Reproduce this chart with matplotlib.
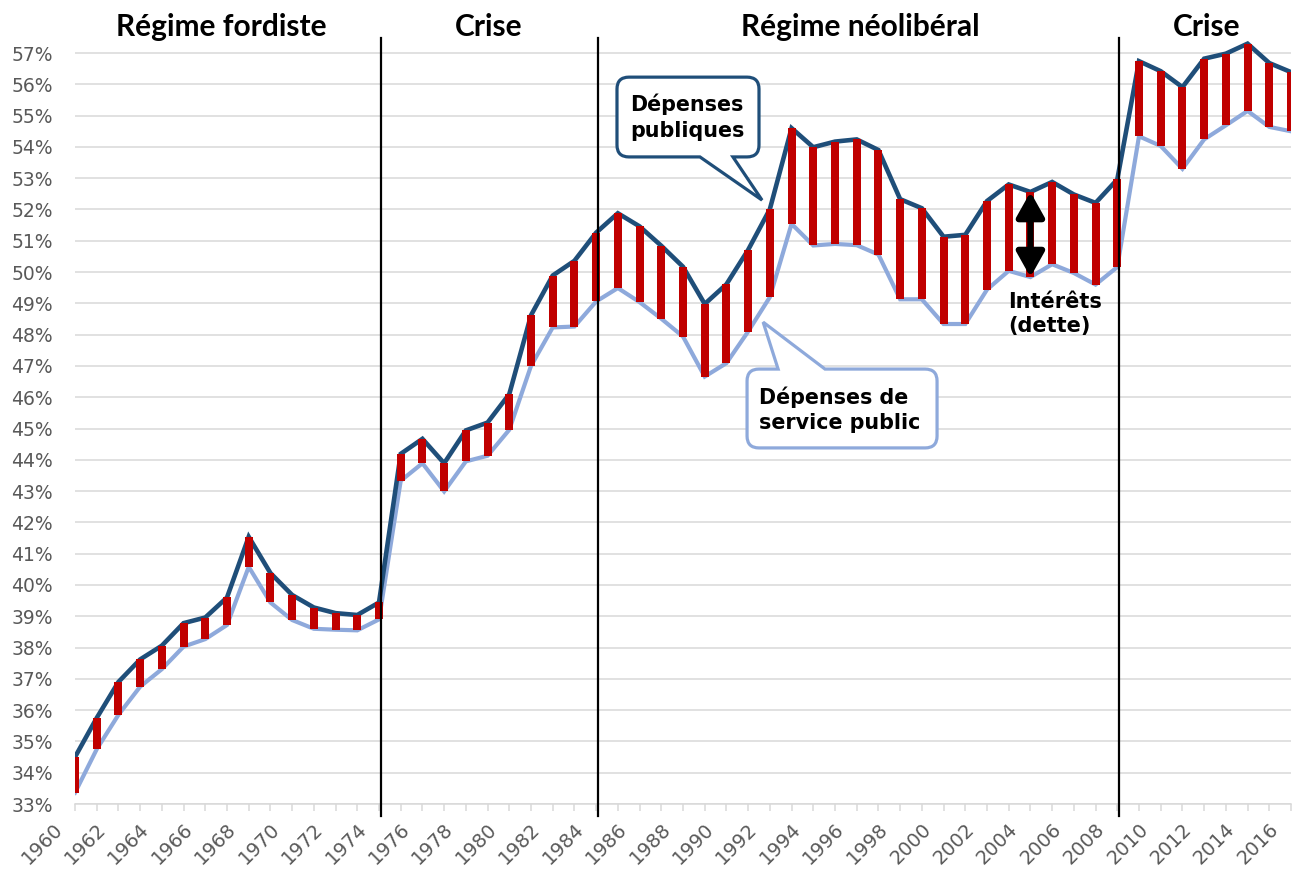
import numpy as np
import matplotlib
matplotlib.use("Agg")
import matplotlib.pyplot as plt
import matplotlib.transforms as mtransforms
from matplotlib.path import Path
from matplotlib.patches import PathPatch

# données (% du PIB)
annees = np.arange(1960, 2017)
dep_publiques = [34.5, 35.75, 36.9, 37.62, 38.06, 38.78, 38.96, 39.6, 41.54, 40.38,
                 39.68, 39.28, 39.1, 39.04, 39.44, 44.19, 44.67, 43.89, 44.94, 45.19,
                 46.1, 48.62, 49.89, 50.36, 51.26, 51.88, 51.46, 50.84, 50.17, 48.98,
                 49.61, 50.71, 52.01, 54.6, 53.99, 54.17, 54.24, 53.9, 52.33, 52.04,
                 51.13, 51.19, 52.27, 52.8, 52.56, 52.88, 52.48, 52.21, 52.96, 56.74,
                 56.42, 55.91, 56.82, 56.98, 57.3, 56.68, 56.39]
dep_service = [33.36, 34.75, 35.85, 36.75, 37.31, 38.03, 38.27, 38.72, 40.58, 39.44,
               38.88, 38.6, 38.57, 38.55, 38.9, 43.33, 43.89, 42.99, 43.95, 44.13,
               44.96, 47.0, 48.23, 48.26, 49.06, 49.49, 49.04, 48.51, 47.94, 46.66,
               47.09, 48.1, 49.2, 51.54, 50.85, 50.9, 50.86, 50.56, 49.13, 49.13,
               48.34, 48.34, 49.44, 50.04, 49.84, 50.25, 49.97, 49.6, 50.16, 54.34,
               54.03, 53.3, 54.24, 54.69, 55.15, 54.64, 54.5]
ruptures = [1974.1, 1984.07, 2008.1]
periodes = ["Régime fordiste", "Crise", "Régime néolibéral", "Crise"]
periodes_x = [1966.72, 1979.07, 1996.15, 2012.13]

dp = np.array(dep_publiques)
ds = np.array(dep_service)

bleu_fonce = "#1F4E79"
bleu_clair = "#8EA9DB"
rouge = "#C00000"
gris = "#595959"

fig = plt.figure(figsize=(12.96, 8.69), dpi=100)
ax = fig.add_axes([75/1296, 65/869, 1216/1296, (804-37.4)/869])

ax.plot(annees, ds, color=bleu_clair, lw=3.0, zorder=3, solid_joinstyle="miter")
ax.plot(annees, dp, color=bleu_fonce, lw=3.3, zorder=3, solid_joinstyle="miter")
ax.bar(annees, dp - ds, bottom=ds, width=0.37, color=rouge, zorder=4)

ax.set_xlim(1960, 2016)
ax.set_ylim(33, 57.5)
ax.set_yticks(np.arange(33, 58))
ax.set_yticklabels([f"{v}%" for v in range(33, 58)])
ax.grid(axis="y", color="#D9D9D9", lw=1.1, zorder=0)
ax.set_axisbelow(True)
ax.set_xticks(annees)
ax.set_xticklabels([str(a) if a % 2 == 0 else "" for a in annees],
                   rotation=45, ha="right", va="top", rotation_mode="anchor")
for s in ["left", "right", "top"]:
    ax.spines[s].set_visible(False)
ax.spines["bottom"].set_color("#D9D9D9")
ax.spines["bottom"].set_linewidth(1.1)
ax.tick_params(axis="y", length=0, pad=16, labelsize=13.5, labelcolor=gris)
ax.tick_params(axis="x", length=5, width=1.1, color="#D9D9D9", pad=6,
               labelsize=14, labelcolor=gris)
decalage = mtransforms.ScaledTranslation(-16/72, 0, fig.dpi_scale_trans)
for lab in ax.get_xticklabels():
    lab.set_transform(lab.get_transform() + decalage)

for x in ruptures:
    ax.plot([x, x], [32.62, 57.48], color="black", lw=1.6, clip_on=False, zorder=5)

for t, x in zip(periodes, periodes_x):
    ax.text(x, 57.83, t, ha="center", va="center", fontsize=21.5,
            fontweight="bold", family="Lato", clip_on=False)


def bulle(x0, x1, y0, y1, base, pointe, cote, rx=0.55, ry=0.38):
    v = [(x0 + rx, y1)]
    c = [Path.MOVETO]
    if cote == "haut":
        v += [(base[0], y1), pointe, (base[1], y1)]
        c += [Path.LINETO] * 3
    v += [(x1 - rx, y1), (x1, y1), (x1, y1 - ry), (x1, y0 + ry), (x1, y0), (x1 - rx, y0)]
    c += [Path.LINETO, Path.CURVE3, Path.CURVE3, Path.LINETO, Path.CURVE3, Path.CURVE3]
    if cote == "bas":
        v += [(base[1], y0), pointe, (base[0], y0)]
        c += [Path.LINETO] * 3
    v += [(x0 + rx, y0), (x0, y0), (x0, y0 + ry), (x0, y1 - ry), (x0, y1), (x0 + rx, y1)]
    c += [Path.LINETO, Path.CURVE3, Path.CURVE3, Path.LINETO, Path.CURVE3, Path.CURVE3]
    v.append((x0 + rx, y1))
    c.append(Path.CLOSEPOLY)
    return Path(v, c)


p1 = bulle(1984.96, 1991.50, 53.68, 56.23, (1988.78, 1990.30), (1991.64, 52.30), "bas")
ax.add_patch(PathPatch(p1, facecolor="white", edgecolor=bleu_fonce, lw=2.3,
                       zorder=6, clip_on=False))
ax.text(1988.2, 54.95, "Dépenses\npubliques", ha="center", va="center",
        multialignment="left", fontsize=14.9, fontweight="bold", linespacing=1.42,
        family="DejaVu Sans", zorder=7)

p2 = bulle(1990.95, 1999.70, 44.38, 46.90, (1992.38, 1994.54), (1991.69, 48.40), "haut")
ax.add_patch(PathPatch(p2, facecolor="white", edgecolor=bleu_clair, lw=2.3,
                       zorder=6, clip_on=False))
ax.text(1995.23, 45.6, "Dépenses de\nservice public", ha="center", va="center",
        multialignment="left", fontsize=14.9, fontweight="bold", linespacing=1.36,
        family="DejaVu Sans", zorder=7)

ax.annotate("", xy=(2004, 49.84), xytext=(2004, 52.56),
            arrowprops=dict(arrowstyle="<|-|>,head_length=0.5,head_width=0.28",
                            mutation_scale=30, lw=4.5, color="black",
                            shrinkA=0, shrinkB=0), zorder=8)
ax.text(2005.13, 48.66, "Intérêts\n(dette)", ha="center", va="center",
        multialignment="left", fontsize=15, fontweight="bold", linespacing=1.25,
        family="DejaVu Sans", zorder=7)

fig.savefig("out.png", dpi=100)
